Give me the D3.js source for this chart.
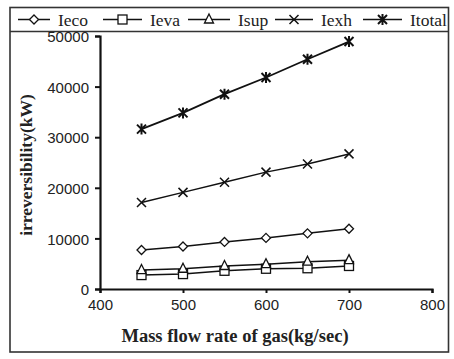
<!DOCTYPE html>
<html><head><meta charset="utf-8">
<script src="https://cdn.jsdelivr.net/npm/d3@7"></script>
<style>body{margin:0;background:#fff}svg{display:block}</style>
</head><body>
<svg id="c" width="454" height="359"></svg>
<script>
const massFlow = [450, 500, 550, 600, 650, 700];
const Ieco   = [7700, 8400, 9300, 10100, 11000, 11900];
const Ieva   = [2750, 2950, 3600, 4000, 4100, 4550];
const Isup   = [3750, 4000, 4550, 4900, 5400, 5700];
const Iexh   = [17100, 19100, 21100, 23100, 24700, 26700];
const Itotal = [31600, 34800, 38500, 41800, 45400, 48900];
const seriesNames = ["Ieco", "Ieva", "Isup", "Iexh", "Itotal"];
const seriesMarkers = ["diamond", "square", "triangle", "x", "star"];
const xTicks = [400, 500, 600, 700, 800];
const yTicks = [0, 10000, 20000, 30000, 40000, 50000];
const xTitle = "Mass flow rate of gas(kg/sec)";
const yTitle = "irreversibility(kW)";

const allSeries = [Ieco, Ieva, Isup, Iexh, Itotal];
const svg = d3.select("#c");
const x = d3.scaleLinear().domain([400, 800]).range([100, 432]);
const y = d3.scaleLinear().domain([0, 50000]).range([289, 36]);

// frame
svg.append("rect").attr("x", 10).attr("y", 7.5).attr("width", 438.5).attr("height", 344.5)
  .attr("fill", "none").attr("stroke", "#333").attr("stroke-width", 1.6);
svg.append("line").attr("x1", 10).attr("x2", 448.5).attr("y1", 31.5).attr("y2", 31.5)
  .attr("stroke", "#333").attr("stroke-width", 1.4);

function marker(g, type, cx, cy) {
  const s = 4.5;
  if (type === "diamond") {
    g.append("path").attr("d", `M${cx},${cy-s}L${cx+s},${cy}L${cx},${cy+s}L${cx-s},${cy}Z`)
      .attr("fill", "#fff").attr("stroke", "#111").attr("stroke-width", 1.3);
  } else if (type === "square") {
    g.append("rect").attr("x", cx-s).attr("y", cy-s).attr("width", 2*s).attr("height", 2*s)
      .attr("fill", "#fff").attr("stroke", "#111").attr("stroke-width", 1.3);
  } else if (type === "triangle") {
    g.append("path").attr("d", `M${cx},${cy-s-1}L${cx+s},${cy+s-1}L${cx-s},${cy+s-1}Z`)
      .attr("fill", "#fff").attr("stroke", "#111").attr("stroke-width", 1.3);
  } else if (type === "x") {
    g.append("path").attr("d", `M${cx-s},${cy-s}L${cx+s},${cy+s}M${cx-s},${cy+s}L${cx+s},${cy-s}`)
      .attr("stroke", "#111").attr("stroke-width", 1.5);
  } else if (type === "star") {
    g.append("path").attr("d", `M${cx-s},${cy-s}L${cx+s},${cy+s}M${cx-s},${cy+s}L${cx+s},${cy-s}M${cx},${cy-s-1}L${cx},${cy+s+1}`)
      .attr("stroke", "#111").attr("stroke-width", 2);
  }
}

// axes
const yAxis = d3.axisLeft(y).tickValues(yTicks).tickSize(5).tickPadding(6).tickFormat(d3.format("d"));
const gy = svg.append("g").attr("transform", "translate(100,0)").call(yAxis);
const xAxis = d3.axisBottom(x).tickValues(xTicks).tickSize(4).tickPadding(6).tickFormat(d3.format("d"));
const gx = svg.append("g").attr("transform", "translate(0,289)").call(xAxis);
[gx, gy].forEach(g => {
  g.select(".domain").attr("stroke", "#111").attr("stroke-width", 2.2);
  g.selectAll(".tick line").attr("stroke", "#111").attr("stroke-width", 2);
  g.selectAll(".tick text").attr("font-family", "Liberation Sans, Arial, sans-serif")
    .attr("font-size", 15).attr("fill", "#222");
});
gy.selectAll(".tick text").attr("dy", "0.38em");

// series
const line = d3.line().x((d, i) => x(massFlow[i])).y(d => y(d));
allSeries.forEach((vals, k) => {
  svg.append("path").datum(vals).attr("d", line).attr("fill", "none")
    .attr("stroke", "#111").attr("stroke-width", k === 4 ? 1.8 : 1.5);
  const g = svg.append("g");
  vals.forEach((v, i) => marker(g, seriesMarkers[k], x(massFlow[i]), y(v)));
});

// legend
const legX = [18, 103, 188, 275, 363];
const legW = [32, 39, 42, 38, 39];
seriesNames.forEach((n, k) => {
  const g = svg.append("g");
  g.append("line").attr("x1", legX[k]).attr("x2", legX[k] + legW[k]).attr("y1", 19.5).attr("y2", 19.5)
    .attr("stroke", "#111").attr("stroke-width", 1.5);
  marker(g, seriesMarkers[k], legX[k] + legW[k] / 2, 19.5);
  g.append("text").attr("x", legX[k] + legW[k] + 8).attr("y", 26)
    .attr("font-family", "Liberation Serif, Times New Roman, serif").attr("font-size", 17.5)
    .attr("fill", "#222").text(n);
});

// titles
svg.append("text").attr("x", 235).attr("y", 342).attr("text-anchor", "middle")
  .attr("font-family", "Liberation Serif, Times New Roman, serif").attr("font-weight", "bold")
  .attr("font-size", 18.5).attr("fill", "#222").text(xTitle);
svg.append("text").attr("transform", "translate(32,165) rotate(-90)").attr("text-anchor", "middle")
  .attr("font-family", "Liberation Serif, Times New Roman, serif").attr("font-weight", "bold")
  .attr("font-size", 17.5).attr("fill", "#222").text(yTitle);
</script>
</body></html>
